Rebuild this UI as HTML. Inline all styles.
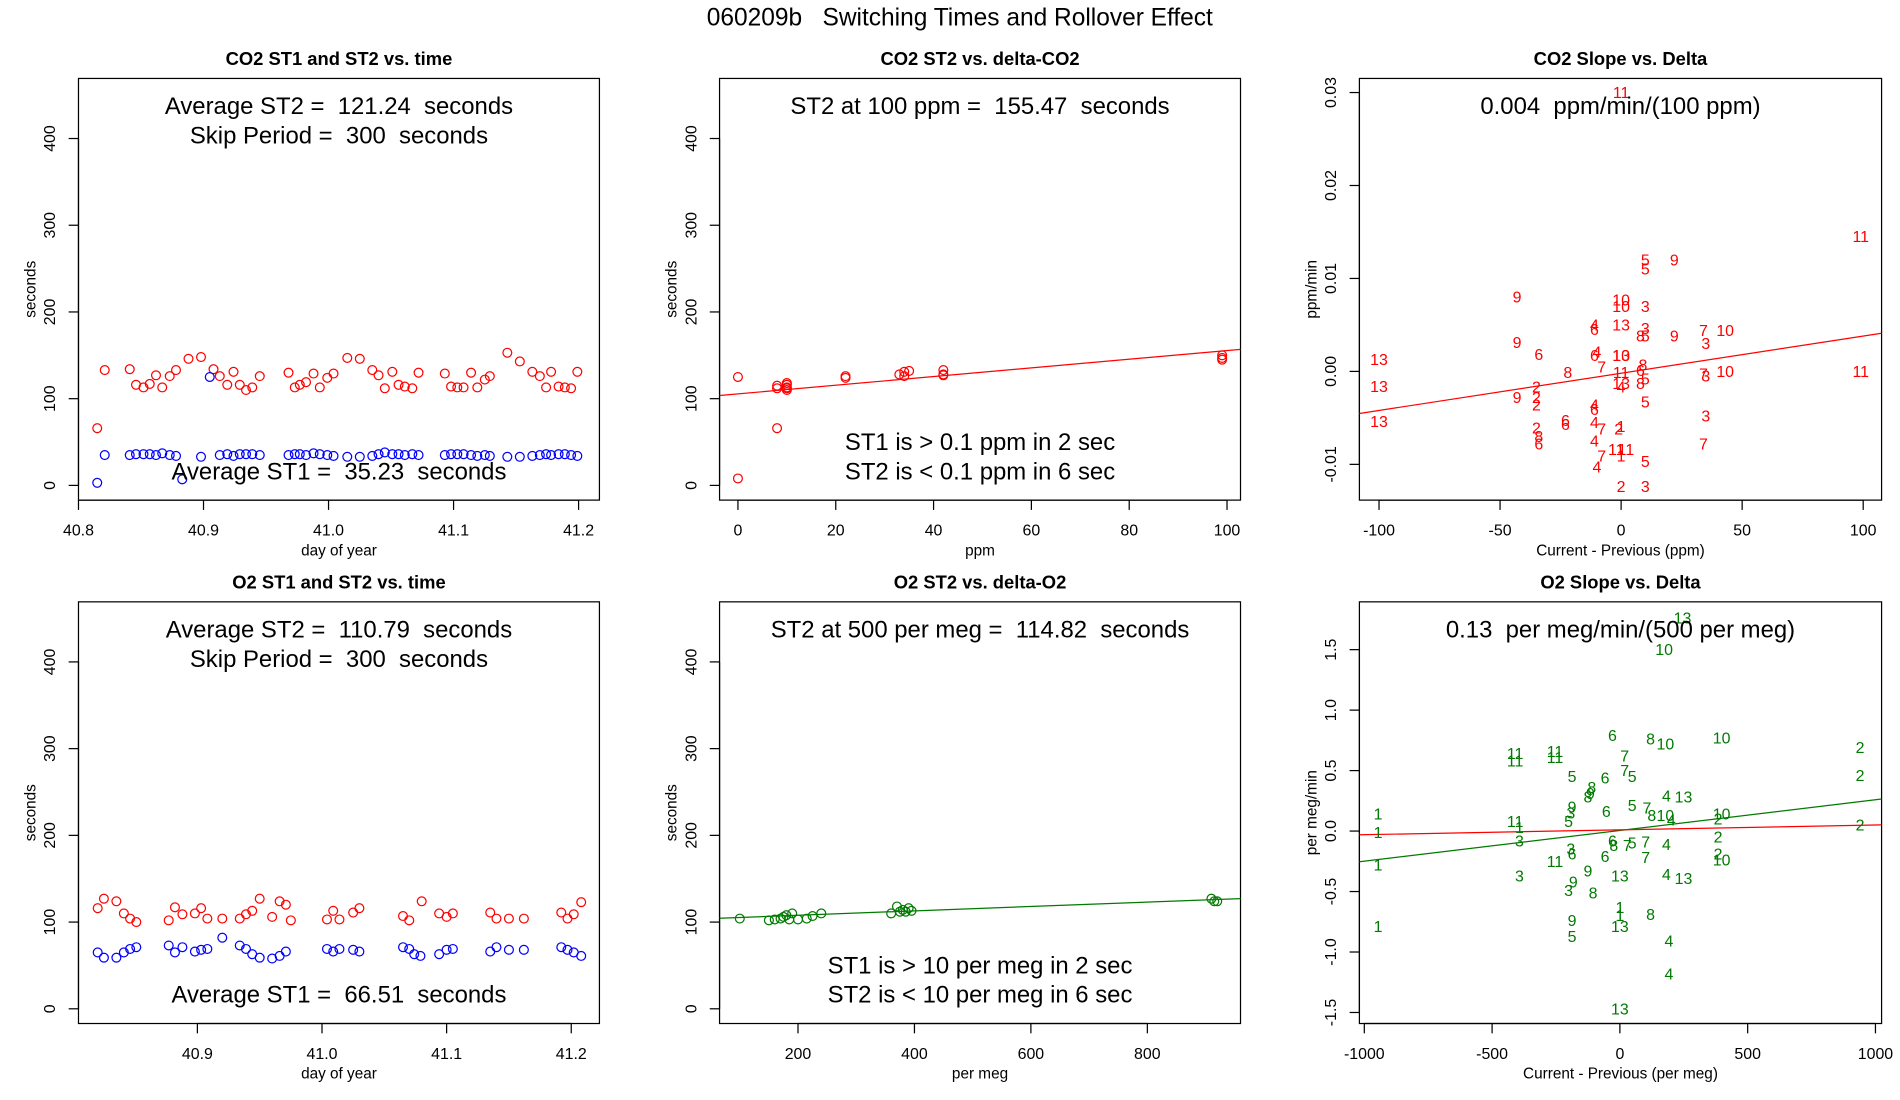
<!DOCTYPE html>
<html><head><meta charset="utf-8"><title>060209b Switching Times and Rollover Effect</title>
<style>html,body{margin:0;padding:0;background:#fff;}svg{display:block;font-family:"Liberation Sans",sans-serif;}svg text{white-space:pre;}</style>
</head><body>
<svg id="chart" width="1900" height="1100" viewBox="0 0 1550 897.4" xmlns="http://www.w3.org/2000/svg">
<rect x="0" y="0" width="1550" height="897.4" fill="#fff"/>
<text x="783" y="21" font-size="20" text-anchor="middle" xml:space="preserve">060209b   Switching Times and Rollover Effect</text>
</svg>
<script>
// ---- Data: panel 1 (CO2 ST vs time)
const co2Days = [40.815,40.821,40.841,40.846,40.852,40.857,40.862,40.867,40.873,40.878,40.888,40.898,40.908,40.913,40.919,40.924,40.929,40.934,40.939,40.945,40.968,40.973,40.977,40.982,40.988,40.993,40.999,41.004,41.015,41.025,41.035,41.040,41.045,41.051,41.056,41.061,41.067,41.072,41.093,41.098,41.103,41.108,41.114,41.119,41.125,41.129,41.143,41.153,41.163,41.169,41.174,41.178,41.184,41.189,41.194,41.199];
const co2ST2 = [66,133,134,116,113,117,127,113,126,133,146,148,134,126,116,131,116,110,113,126,130,113,116,119,129,113,124,129,147,146,133,127,112,131,116,114,112,130,129,114,113,113,130,113,122,126,153,143,131,126,113,131,114,113,112,131];
const co2DaysST1 = [40.815,40.821,40.841,40.846,40.852,40.857,40.862,40.867,40.873,40.878,40.883,40.898,40.905,40.913,40.919,40.924,40.929,40.934,40.939,40.945,40.968,40.973,40.977,40.982,40.988,40.993,40.999,41.004,41.015,41.025,41.035,41.040,41.045,41.051,41.056,41.061,41.067,41.072,41.093,41.098,41.103,41.108,41.114,41.119,41.125,41.129,41.143,41.153,41.163,41.169,41.174,41.178,41.184,41.189,41.194,41.199];
const co2ST1 = [3,35,35,36,36,36,35,37,35,34,7,33,125,35,36,34,36,36,36,35,35,36,36,35,37,36,35,34,33,33,34,36,38,36,36,35,36,35,35,36,36,36,35,34,35,34,33,33,34,35,36,35,36,36,35,34];
// ---- Data: panel 2 (CO2 ST2 vs delta)
const co2Delta = [0,0,8,8,8,10,10,10,10,10,22,22,33,34,34,35,42,42,42,99,99,99];
const co2DeltaST2 = [125,8,66,112,115,110,113,116,118,112,124,126,128,131,126,132,128,133,127,145,150,147];
const co2FitIntercept = 105.5;
const co2FitSlope = 0.5;
// ---- Data: panel 3 (CO2 slope vs delta)
const co2SlopeX = [0,99,10,22,10,-43,0,0,10,-11,0,-11,10,8,10,22,34,43,35,-43,-34,-100,-11,-10,0,0,-8,-22,0,9,8,10,0,0,8,34,35,43,99,-100,-43,-35,-35,-35,10,-11,-11,35,-100,-35,-34,-34,-23,-23,-11,-8,0,-1,-11,-2,2,0,-8,34,-10,10,0,10];
const co2SlopeY = [0.0300,0.0145,0.0120,0.0120,0.0110,0.0080,0.0077,0.0070,0.0070,0.0050,0.0050,0.0045,0.0046,0.0038,0.0038,0.0038,0.0044,0.0044,0.0030,0.0031,0.0018,0.0013,0.0017,0.0021,0.0017,0.0017,0.0005,-0.0001,-0.0001,0.0007,0.0001,-0.0008,-0.0013,-0.0017,-0.0013,-0.0003,-0.0005,0.0000,0.0000,-0.0016,-0.0028,-0.0017,-0.0028,-0.0036,-0.0033,-0.0036,-0.0041,-0.0048,-0.0054,-0.0061,-0.0070,-0.0078,-0.0053,-0.0057,-0.0055,-0.0062,-0.0059,-0.0062,-0.0075,-0.0084,-0.0084,-0.0091,-0.0091,-0.0078,-0.0103,-0.0097,-0.0124,-0.0124];
const co2SlopeLab = ["11","11","5","9","5","9","10","10","3","4","13","6","3","8","5","9","7","10","3","9","6","13","6","4","10","13","7","8","11","8","6","5","13","4","8","7","3","10","11","13","9","2","2","2","5","4","6","3","13","2","8","6","6","6","4","7","1","2","4","11","11","1","7","7","4","5","2","3"];
const co2SlopeFitA = -0.0002;
const co2SlopeFitB = 0.00004;
// ---- Data: panel 4 (O2 ST vs time)
const o2DaysST2 = [40.820,40.825,40.835,40.841,40.846,40.851,40.877,40.882,40.888,40.898,40.903,40.908,40.920,40.934,40.939,40.944,40.950,40.960,40.966,40.971,40.975,41.004,41.009,41.014,41.025,41.030,41.065,41.070,41.080,41.094,41.100,41.105,41.135,41.140,41.150,41.162,41.192,41.197,41.202,41.208];
const o2ST2 = [116,127,124,110,104,100,102,117,109,110,116,104,104,104,109,113,127,106,124,120,102,103,113,103,111,116,107,102,124,110,106,110,111,104,104,104,111,104,109,123];
const o2DaysST1 = [40.820,40.825,40.835,40.841,40.846,40.851,40.877,40.882,40.888,40.898,40.903,40.908,40.920,40.934,40.939,40.944,40.950,40.960,40.966,40.971,41.004,41.009,41.014,41.025,41.030,41.065,41.070,41.074,41.079,41.094,41.100,41.105,41.135,41.140,41.150,41.162,41.192,41.197,41.202,41.208];
const o2ST1 = [65,59,59,65,69,71,73,65,71,66,68,69,82,73,69,63,59,58,61,66,69,66,69,68,66,71,69,63,61,63,68,69,66,71,68,68,71,68,65,61];
// ---- Data: panel 5 (O2 ST2 vs delta)
const o2Delta = [100,150,160,170,175,180,185,190,200,215,225,240,360,370,375,380,385,390,395,910,915,920];
const o2DeltaST2 = [104,102,103,104,106,108,103,110,103,104,107,110,110,118,112,114,112,116,113,127,124,124];
const o2FitIntercept = 102.8;
const o2FitSlope = 0.0253;
// ---- Data: panel 6 (O2 slope vs delta)
const o2SlopeX = [245,173,-29,120,178,398,940,-410,-410,-254,-254,19,19,48,-187,-58,-110,-115,-125,940,182,249,-187,-192,-53,48,106,125,178,201,398,384,-946,-946,-410,-393,-393,-201,940,384,-29,-24,29,48,101,182,-192,-187,384,398,-58,101,-254,-946,-125,0,182,249,-393,-182,-201,-105,0,0,120,0,-187,-187,-946,192,192,0];
const o2SlopeY = [1.76,1.50,0.79,0.76,0.72,0.77,0.69,0.64,0.58,0.66,0.61,0.62,0.50,0.45,0.45,0.44,0.36,0.31,0.28,0.46,0.29,0.28,0.20,0.15,0.16,0.21,0.19,0.13,0.13,0.09,0.14,0.10,0.14,-0.01,0.08,0.03,-0.08,0.08,0.05,-0.05,-0.08,-0.12,-0.12,-0.10,-0.09,-0.11,-0.15,-0.19,-0.19,-0.24,-0.21,-0.22,-0.25,-0.28,-0.33,-0.37,-0.36,-0.39,-0.37,-0.42,-0.49,-0.51,-0.63,-0.70,-0.69,-0.79,-0.74,-0.87,-0.79,-0.91,-1.18,-1.47];
const o2SlopeLab = ["13","10","6","8","10","10","2","11","11","11","11","7","7","5","5","6","8","9","8","2","4","13","9","3","6","5","7","8","10","4","10","2","1","1","11","1","3","5","2","2","6","8","7","5","7","4","3","6","2","10","6","7","11","1","9","13","4","13","3","9","3","8","1","1","8","13","9","5","1","4","4","13"];
const o2SlopeGreenA = 0.005, o2SlopeGreenB = 0.000254;
const o2SlopeRedA = 0.01, o2SlopeRedB = 0.00004;

const NS = "http://www.w3.org/2000/svg";
const svg = document.getElementById('chart');
function mk(tag, attrs, parent){
  const e = document.createElementNS(NS, tag);
  for (const k in attrs) e.setAttribute(k, attrs[k]);
  (parent||svg).appendChild(e);
  return e;
}
function lin(d0, p0, d1, p1){ return v => p0 + (v - d0) * (p1 - p0) / (d1 - d0); }

function panel(c){
  const g = mk('g', {});
  
  
  const sx = lin(c.xa[0], c.xa[1], c.xb[0], c.xb[1]);
  const sy = lin(c.ya[0], c.ya[1], c.yb[0], c.yb[1]);
  const box = mk('rect', {x:c.x0, y:c.y0, width:c.x1-c.x0, height:c.y1-c.y0, fill:'none', stroke:'#000', 'stroke-width':1}, g);
  
  
  const t = mk('text', {x:(c.x0+c.x1)/2, y:c.y0-11, 'font-size':15, 'font-weight':'bold', 'text-anchor':'middle'}, g);
  t.textContent = c.title;
  
  
  const xs = c.xticks.map(sx);
  const xl = mk('line', {x1:xs[0], x2:xs[xs.length-1], y1:c.y1, y2:c.y1, stroke:'#000'}, g);
  
  
  c.xticks.forEach((v,i) => {
    const tk = mk('line', {x1:xs[i], x2:xs[i], y1:c.y1, y2:c.y1+8, stroke:'#000'}, g);
    
    
    const tl = mk('text', {x:xs[i], y:c.y1+29, 'font-size':13, 'text-anchor':'middle'}, g);
    tl.textContent = c.xlabels[i];
    
    
  });
  const xt = mk('text', {x:(c.x0+c.x1)/2, y:c.y1+45, 'font-size':12.5, 'text-anchor':'middle'}, g);
  xt.textContent = c.xtitle;
  
  
  const ys = c.yticks.map(sy);
  const yl = mk('line', {x1:c.x0, x2:c.x0, y1:ys[0], y2:ys[ys.length-1], stroke:'#000'}, g);
  
  
  c.yticks.forEach((v,i) => {
    const tk = mk('line', {x1:c.x0-8, x2:c.x0, y1:ys[i], y2:ys[i], stroke:'#000'}, g);
    
    
    const lx = c.x0 - 19;
    const tl = mk('text', {x:lx, y:ys[i], 'font-size':13, 'text-anchor':'middle', transform:`rotate(-90 ${lx} ${ys[i]})`}, g);
    tl.textContent = c.ylabels[i];
    
    
  });
  const yx = c.x0 - 35, yy = (c.y0+c.y1)/2;
  const yt = mk('text', {x:yx, y:yy, 'font-size':12.5, 'text-anchor':'middle', transform:`rotate(-90 ${yx} ${yy})`}, g);
  yt.textContent = c.ytitle;
  
  
  const cid = 'clip' + c.name;
  const cp = mk('clipPath', {id:cid}, g);
  mk('rect', {x:c.x0, y:c.y0, width:c.x1-c.x0, height:c.y1-c.y0}, cp);
  const inner = mk('g', {'clip-path':`url(#${cid})`}, g);
  return {g, inner, sx, sy, c};
}
function circles(p, xs, ys, color, name){
  xs.forEach((v,i) => {
    const e = mk('circle', {cx:p.sx(v), cy:p.sy(ys[i]), r:3.6, fill:'none', stroke:color, 'stroke-width':1}, p.g);
    
    
  });
}
function labels(p, xs, ys, labs, color, name){
  xs.forEach((v,i) => {
    const e = mk('text', {x:p.sx(v), y:p.sy(ys[i])+4.5, 'font-size':13, fill:color, 'text-anchor':'middle'}, p.g);
    e.textContent = labs[i];
    
    
  });
}
function fitLine(p, a, b, color, name){
  const xA = lin(p.c.xa[1], p.c.xa[0], p.c.xb[1], p.c.xb[0]);
  const d0 = xA(p.c.x0), d1 = xA(p.c.x1);
  const e = mk('line', {x1:p.c.x0, x2:p.c.x1, y1:p.sy(a+b*d0), y2:p.sy(a+b*d1), stroke:color, 'stroke-width':1}, p.inner);
  
  
}
function note(p, txt, y, name){
  const e = mk('text', {x:(p.c.x0+p.c.x1)/2, y:y, 'font-size':19.5, 'text-anchor':'middle'}, p.g);
  e.textContent = txt;
  
  
}

const R1 = {y0:64, y1:408}, R2 = {y0:491, y1:835};
const secTicks = [0,100,200,300,400];
const secLab = ['0','100','200','300','400'];

const p1 = panel({name:'co2-st-vs-time', x0:64, x1:489, y0:R1.y0, y1:R1.y1, xa:[40.8,64], xb:[41.2,472], ya:[0,396], yb:[400,113],
  xticks:[40.8,40.9,41.0,41.1,41.2], xlabels:['40.8','40.9','41.0','41.1','41.2'], yticks:secTicks, ylabels:secLab,
  title:'CO2 ST1 and ST2 vs. time', xtitle:'day of year', ytitle:'seconds'});
circles(p1, co2Days, co2ST2, '#ff0000', 'co2-st2-point');
circles(p1, co2DaysST1, co2ST1, '#0000ff', 'co2-st1-point');
note(p1, 'Average ST2 =  121.24  seconds', 93, 'avg-st2-note');
note(p1, 'Skip Period =  300  seconds', 117, 'skip-period-note');
note(p1, 'Average ST1 =  35.23  seconds', 391, 'avg-st1-note');

const p2 = panel({name:'co2-st2-vs-delta', x0:587, x1:1012, y0:R1.y0, y1:R1.y1, xa:[0,602], xb:[100,1001], ya:[0,396], yb:[400,113],
  xticks:[0,20,40,60,80,100], xlabels:['0','20','40','60','80','100'], yticks:secTicks, ylabels:secLab,
  title:'CO2 ST2 vs. delta-CO2', xtitle:'ppm', ytitle:'seconds'});
circles(p2, co2Delta, co2DeltaST2, '#ff0000', 'co2-delta-point');
fitLine(p2, co2FitIntercept, co2FitSlope, '#ff0000', 'co2-fit-line');
note(p2, 'ST2 at 100 ppm =  155.47  seconds', 93, 'st2-at-100-note');
note(p2, 'ST1 is > 0.1 ppm in 2 sec', 367, 'st1-threshold-note');
note(p2, 'ST2 is < 0.1 ppm in 6 sec', 391, 'st2-threshold-note');

const p3 = panel({name:'co2-slope-vs-delta', x0:1109, x1:1535, y0:R1.y0, y1:R1.y1, xa:[-100,1125], xb:[100,1520], ya:[0,303], yb:[0.03,75.5],
  xticks:[-100,-50,0,50,100], xlabels:['-100','-50','0','50','100'], yticks:[-0.01,0,0.01,0.02,0.03], ylabels:['-0.01','0.00','0.01','0.02','0.03'],
  title:'CO2 Slope vs. Delta', xtitle:'Current - Previous (ppm)', ytitle:'ppm/min'});
labels(p3, co2SlopeX, co2SlopeY, co2SlopeLab, '#ff0000', 'co2-slope-label');
fitLine(p3, co2SlopeFitA, co2SlopeFitB, '#ff0000', 'co2-slope-fit-line');
note(p3, '0.004  ppm/min/(100 ppm)', 93, 'co2-slope-note');

const p4 = panel({name:'o2-st-vs-time', x0:64, x1:489, y0:R2.y0, y1:R2.y1, xa:[40.9,161], xb:[41.2,466], ya:[0,823], yb:[400,540],
  xticks:[40.9,41.0,41.1,41.2], xlabels:['40.9','41.0','41.1','41.2'], yticks:secTicks, ylabels:secLab,
  title:'O2 ST1 and ST2 vs. time', xtitle:'day of year', ytitle:'seconds'});
circles(p4, o2DaysST2, o2ST2, '#ff0000', 'o2-st2-point');
circles(p4, o2DaysST1, o2ST1, '#0000ff', 'o2-st1-point');
note(p4, 'Average ST2 =  110.79  seconds', 520, 'avg-st2-note');
note(p4, 'Skip Period =  300  seconds', 544, 'skip-period-note');
note(p4, 'Average ST1 =  66.51  seconds', 818, 'avg-st1-note');

const p5 = panel({name:'o2-st2-vs-delta', x0:587, x1:1012, y0:R2.y0, y1:R2.y1, xa:[200,651], xb:[800,936], ya:[0,823], yb:[400,540],
  xticks:[200,400,600,800], xlabels:['200','400','600','800'], yticks:secTicks, ylabels:secLab,
  title:'O2 ST2 vs. delta-O2', xtitle:'per meg', ytitle:'seconds'});
circles(p5, o2Delta, o2DeltaST2, '#007a00', 'o2-delta-point');
fitLine(p5, o2FitIntercept, o2FitSlope, '#007a00', 'o2-fit-line');
note(p5, 'ST2 at 500 per meg =  114.82  seconds', 520, 'st2-at-500-note');
note(p5, 'ST1 is > 10 per meg in 2 sec', 794, 'st1-threshold-note');
note(p5, 'ST2 is < 10 per meg in 6 sec', 818, 'st2-threshold-note');

const p6 = panel({name:'o2-slope-vs-delta', x0:1109, x1:1535, y0:R2.y0, y1:R2.y1, xa:[-1000,1113], xb:[1000,1530], ya:[0,678], yb:[1.5,530],
  xticks:[-1000,-500,0,500,1000], xlabels:['-1000','-500','0','500','1000'], yticks:[-1.5,-1,-0.5,0,0.5,1,1.5], ylabels:['-1.5','-1.0','-0.5','0.0','0.5','1.0','1.5'],
  title:'O2 Slope vs. Delta', xtitle:'Current - Previous (per meg)', ytitle:'per meg/min'});
labels(p6, o2SlopeX, o2SlopeY, o2SlopeLab, '#007a00', 'o2-slope-label');
fitLine(p6, o2SlopeGreenA, o2SlopeGreenB, '#007a00', 'o2-slope-fit-line');
fitLine(p6, o2SlopeRedA, o2SlopeRedB, '#ff0000', 'o2-slope-ref-line');
note(p6, '0.13  per meg/min/(500 per meg)', 520, 'o2-slope-note');
</script>
</body></html>
